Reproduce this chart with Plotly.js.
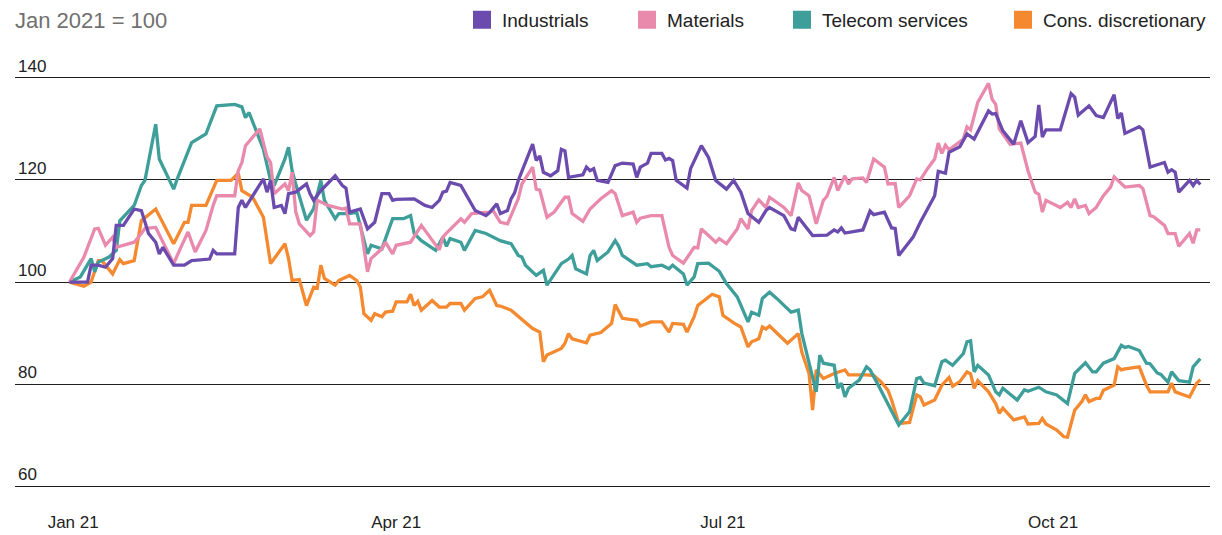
<!DOCTYPE html>
<html>
<head>
<meta charset="utf-8">
<script src="https://cdn.plot.ly/plotly-3.0.1.min.js"></script>
<style>
  html, body { margin: 0; padding: 0; background: #ffffff; }
  #chart { width: 1222px; height: 535px; }
</style>
</head>
<body>
<div id="chart"></div>
<script>
// Days counted from 1 Jan 2021 (day 0); values indexed to Jan 2021 = 100
const seriesNames = ["Industrials", "Materials", "Telecom services", "Cons. discretionary"];
const seriesColors = ["#6b4bad", "#e98aad", "#3e9e9a", "#f5892f"];

const tickDates = ["2021-01-01", "2021-04-01", "2021-07-01", "2021-10-01"];
const tickLabels = ["Jan 21", "Apr 21", "Jul 21", "Oct 21"];
const yTicks = [60, 80, 100, 120, 140];

const industrialsDays = [-1,4,5,7,9,11,12,14,17,19,21,23,24,25,28,31,33,38,39,40,45,46,47,48,53,54,55,56,58,59,60,62,65,66,67,69,73,75,76,77,80,82,84,86,88,89,90,95,98,100,102,103,104,105,108,110,111,112,115,116,118,119,121,122,123,124,128,129,130,131,133,135,136,137,138,142,143,144,145,146,149,151,153,156,157,158,160,161,164,165,166,167,168,171,172,175,177,179,182,184,186,188,191,193,194,198,200,201,202,206,210,212,213,214,215,220,222,223,226,228,229,230,234,236,240,241,243,244,247,249,251,255,256,257,259,262,264,266,268,269,270,271,275,278,279,280,283,285,287,290,291,292,293,297,298,300,304,305,306,307,308,311,312,313,314];
const industrialsValues = [100,100,103.3,103.3,102.9,104.6,111.1,111.1,114.3,114,109.5,107.8,105.5,106.8,103.3,103.3,104.2,104.5,106.2,105.5,105.5,114.6,116,114.6,120.2,117.6,119.9,114.6,115,113.4,117.3,117.6,119.2,117.3,116,117.9,120.8,118.9,118.4,113.7,114.3,110.4,111.7,117.3,117.3,116,116.2,116.3,115,114.6,116,117.6,117.8,119.5,118.9,116.6,115.2,114,113,113.6,115.3,113.4,114,116.3,117.5,119.9,127,123.8,124.7,121.5,120.8,121.8,126,125.7,120.5,121,122.5,121.8,122.2,119.9,119.5,122.8,123.3,123.1,120.5,122.5,123.3,125.2,125.2,123.9,124.2,123.8,119.9,118.4,122.2,126.7,124.4,119.9,118.2,119.9,117.6,113.4,111.7,114,114.6,113,110.4,110.2,112.7,109.1,109.2,110.2,109.8,110.6,109.6,110.2,113.9,113.2,113.7,110.6,110.5,105.2,108.8,111.7,116.9,121.7,121.3,125.4,126.5,129,128,133.5,132.9,133,129.6,127,131.6,127.3,128.5,134.7,128.4,129.8,129.8,136.9,136.2,132.7,134.5,132.6,132.2,136.7,132,133.1,129.1,130.4,129.8,122.5,123.4,121.5,122,121.5,117.6,119.9,118.9,119.9,119.1];

const materialsDays = [-1,3,6,7,9,11,12,17,19,20,23,25,28,30,32,34,37,39,40,45,46,47,48,52,53,54,55,56,59,60,61,62,63,66,67,68,71,75,76,77,80,82,83,86,87,89,90,94,97,102,103,104,108,109,111,116,117,119,121,123,124,125,128,129,130,132,134,137,138,139,142,144,147,150,151,153,156,157,158,161,164,166,167,170,173,174,175,177,179,180,182,185,186,188,189,191,193,194,198,200,202,203,205,207,209,210,212,213,215,216,217,220,221,223,226,227,229,230,233,235,236,238,240,241,242,243,244,248,249,250,252,255,256,257,258,261,264,266,268,269,270,271,275,277,278,279,280,282,283,285,287,289,290,293,297,298,300,301,304,305,307,308,311,312,313,314];
const materialsValues = [100,104.9,110.4,110.5,107.2,108.8,106.8,107.8,109.5,110.5,110.7,107.8,103.6,106.8,109.8,105.9,110.1,115,116.9,116.9,121.8,123.4,126.7,130,127,124.5,123.4,117.3,119.2,117.9,121.5,113.8,111.4,109.1,109.8,116,115,114.3,114.5,111.4,111.4,102,104.6,106.5,107.8,105.5,107.2,107.8,111.1,106.3,108.8,109.6,112.4,111.7,113.4,113.7,114,111.7,111.4,114.6,116.3,119.2,122.5,118.2,118,112.7,113.7,116.6,116.6,113.4,111.9,114.3,116.3,117.9,117.3,113,113.7,111.7,112.5,113,113,106.8,105.2,103.7,106.8,106.7,110.4,109.1,107.8,108.5,107.5,110.4,112.4,110.4,114,116.1,114.6,116.6,114.6,113,119.4,117.9,116.9,111.4,116,116.8,120.5,117.9,120.8,119.2,120.2,120.4,119.5,124.1,122.5,119.2,119.3,114.6,116.9,120.2,120,122.2,124.1,127.2,125.2,126.8,125.9,128,130.4,129.8,135.2,138.9,135.8,134.8,130,127,127.2,121.8,117.6,117.2,113.7,116,114.6,115.6,114.6,116.3,114.6,115,113.4,114.6,116.9,118.6,120.6,118.6,118.9,118.3,113,112.8,111.1,109.5,109.5,107,109.5,107.6,110.2,110.2];

const telecomDays = [-1,2,5,6,7,10,12,13,17,19,20,23,24,28,29,33,37,40,45,47,48,49,51,53,55,56,59,60,61,62,65,67,69,70,73,74,77,79,82,83,86,89,92,94,95,97,101,103,104,105,108,109,112,115,119,122,124,125,126,129,131,132,136,138,139,140,143,144,145,146,149,151,152,153,157,160,161,164,166,167,170,171,173,174,177,179,180,182,185,188,189,191,192,194,196,200,202,203,205,207,208,209,212,213,214,215,216,219,221,222,224,226,228,230,233,235,236,237,240,242,243,245,248,249,250,251,252,255,257,258,259,263,265,266,269,271,274,277,279,282,284,285,287,290,292,293,294,297,299,300,302,303,305,306,308,311,312,313,314];
const telecomValues = [100,101,104.6,102,103.9,104.9,106.2,112,115,118.9,119.9,130.9,124.1,118.2,120.2,127.3,129,134.5,134.8,134.3,132.2,133.2,129.6,126,119.9,118.9,124.1,126.4,121.8,119.2,112.1,114.4,119.9,116,112.4,113.4,113.4,113.7,105.5,107.2,106.5,112.4,112.4,113,109.5,108.1,106.2,108.8,107,108.5,107.8,106.2,110.1,109.5,108.1,107.5,105.2,104.9,103.3,101.3,102.3,99.4,103.6,104.5,105.2,102.6,101.6,105.2,106.2,104.2,105.9,108.1,107,105.2,103.3,103.6,103,103.3,102.6,103.3,101.6,99.4,101,103.6,103.7,102.6,102.1,99.7,97.1,92.2,94.1,93.5,96.8,98,96.8,94.1,94.5,89.9,84.4,78.5,85.7,84.1,83.7,79.2,80.2,77.5,79.2,80.8,83.4,82.8,80.2,77.5,74.6,72,74.6,81.1,81.3,80.2,79.7,84.4,84.7,83.7,86,88.3,88.5,82.4,83.7,81.8,78.5,77.9,79.2,76.9,78.9,78.6,79.4,78.5,77.9,76.2,82.1,84.2,82.4,82.4,84.1,85,87.6,87.2,87.4,86.6,84.1,84,82.2,81.9,80.4,82.4,80.7,80.4,83.4,84.1,85];

const consDiscDays = [-1,3,5,6,7,8,9,11,13,14,17,19,23,25,28,31,32,33,37,40,44,46,47,50,53,55,59,60,61,63,65,67,68,69,70,73,74,77,79,80,81,83,84,86,87,89,90,93,94,95,96,97,100,102,104,105,108,109,112,114,116,118,119,122,124,125,128,130,131,132,136,137,138,139,143,144,147,150,151,153,157,158,161,164,166,167,170,171,173,174,178,180,181,184,186,188,189,191,192,193,194,199,202,203,205,206,207,209,212,215,216,221,223,225,227,228,230,233,235,236,237,240,242,244,245,247,249,250,251,252,255,257,258,259,262,265,266,269,270,271,274,276,277,279,281,282,283,285,286,287,290,291,292,293,297,299,300,305,306,307,311,313,314];
const consDiscValues = [100,99.2,100,102,104.2,104.2,103.3,101.6,104.4,103.6,104.2,112,114.3,111.7,107.5,111.7,111.7,115,115,119.9,119.9,121.3,117.9,116.6,112.7,103.6,107.5,104.6,100.3,100.5,95.4,99,98.8,103.3,100.7,99.4,100.3,101.3,100.3,99,93.8,92.5,93.8,93.2,94.1,94.3,96.1,96.1,97.6,95.4,96.2,94.5,96.4,95.1,95.1,95.8,95.8,94.5,96.8,97.1,98.4,95.4,95.3,94.5,93.3,92.9,90.9,90.2,84.4,85.7,87,88,89.9,88.9,88.1,89.6,90.1,91.9,95.6,92.9,92.5,91.4,92.2,92.2,90.2,91.9,91.7,90.2,93.2,95.4,97.6,97.1,93.5,92,91.2,87.3,88.3,88.9,91.2,90.8,91.4,88,89.9,86.3,82.1,74.9,82.8,81.1,82.1,82.8,81.8,81.8,81.7,80.5,78.8,76.9,72.3,72.5,77.9,77.5,75.9,76.9,79.8,81.3,79.6,80.5,82.4,82,79.2,80.7,78.5,76.2,74.3,75.3,73,73.6,72.2,72.3,73.3,72.2,71,69.7,69.6,74.9,76.6,77.9,76.6,77.2,77.2,78.8,79.8,83.4,82.8,83,83.4,79.8,78.5,78.5,80.2,78.5,77.5,80.2,80.9];

const xRangeDays = [-16.2, 316.7];
const yRange = [59.47, 145.44];

// ---- helpers ----
const BASE = Date.UTC(2021, 0, 1);
function dayToDate(d) {
  return new Date(BASE + d * 86400000).toISOString().slice(0, 19).replace("T", " ");
}

const seriesDays = [industrialsDays, materialsDays, telecomDays, consDiscDays];
const seriesValues = [industrialsValues, materialsValues, telecomValues, consDiscValues];
const legendIds = ["legend", "legend2", "legend3", "legend4"];
// left pixel of each legend box (one legend per series so spacing matches)
const legendLeft = [462, 627, 782, 1003];

const traces = [];
// draw order: Cons. discretionary first, Industrials on top
for (let i = seriesNames.length - 1; i >= 0; i--) {
  traces.push({
    type: "scatter",
    mode: "lines",
    name: seriesNames[i],
    x: seriesDays[i].map(dayToDate),
    y: seriesValues[i],
    line: { color: seriesColors[i], width: 3.3, shape: "linear" },
    showlegend: false,
    hoverinfo: "skip"
  });
}
// legend entries with square swatches
for (let i = 0; i < seriesNames.length; i++) {
  traces.push({
    type: "scatter",
    mode: "markers",
    name: seriesNames[i],
    legend: legendIds[i],
    x: [null],
    y: [null],
    marker: { symbol: "square", size: 16, color: seriesColors[i], line: { color: seriesColors[i], width: 2 } },
    showlegend: true,
    hoverinfo: "skip"
  });
}

const FONT = "'Liberation Sans', Arial, sans-serif";

const layout = {
  width: 1222,
  height: 535,
  margin: { l: 15, r: 12, t: 50, b: 46, pad: 0 },
  paper_bgcolor: "#ffffff",
  plot_bgcolor: "#ffffff",
  font: { family: FONT, size: 17, color: "#222222" },
  title: {
    text: "Jan 2021 = 100",
    font: { family: FONT, size: 22, color: "#707070" },
    xref: "container", x: 15 / 1222, xanchor: "left",
    yref: "container", y: 1 - 20 / 535, yanchor: "middle"
  },
  showlegend: true,
  xaxis: {
    type: "date",
    range: xRangeDays.map(dayToDate),
    tickvals: tickDates,
    ticktext: tickLabels,
    showgrid: false,
    zeroline: false,
    showline: false,
    ticks: "",
    ticklabelstandoff: 21,
    tickfont: { family: FONT, size: 17, color: "#222222" },
    fixedrange: true
  },
  yaxis: {
    range: yRange,
    tickvals: yTicks,
    ticktext: yTicks.map(String),
    showgrid: true,
    gridcolor: "#1e1e1e",
    gridwidth: 1,
    zeroline: false,
    showline: false,
    ticks: "",
    ticklabelposition: "inside top",
    tickfont: { family: FONT, size: 17, color: "#222222" },
    fixedrange: true
  }
};

legendIds.forEach((id, i) => {
  layout[id] = {
    orientation: "h",
    xref: "container", x: legendLeft[i] / 1222, xanchor: "left",
    yref: "container", y: 1 - 20 / 535, yanchor: "middle",
    font: { family: FONT, size: 19, color: "#222222" },
    bgcolor: "rgba(0,0,0,0)",
    borderwidth: 0
  };
});

Plotly.newPlot("chart", traces, layout, { staticPlot: true, displayModeBar: false });
</script>
</body>
</html>
